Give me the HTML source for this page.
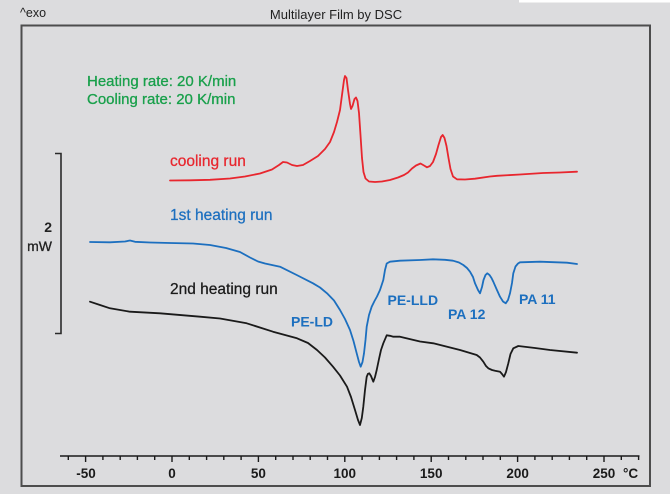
<!DOCTYPE html>
<html><head><meta charset="utf-8"><style>
html,body{margin:0;padding:0;background:#dcdcde;}
svg{display:block;}
text{font-family:"Liberation Sans",Arial,sans-serif;}
</style></head><body>
<svg width="670" height="494" viewBox="0 0 670 494" xmlns="http://www.w3.org/2000/svg">
<rect x="0" y="0" width="670" height="494" fill="#dcdcde"/>
<rect x="519" y="0" width="151" height="2.5" fill="#ffffff"/>
<rect x="21.5" y="25.5" width="628.5" height="460.5" fill="none" stroke="#4d4d4d" stroke-width="2"/>
<text x="20" y="17" font-size="12.5" fill="#222">^exo</text>
<text x="336" y="19" font-size="13" fill="#222" text-anchor="middle">Multilayer Film by DSC</text>
<text x="87" y="86" font-size="15" fill="#19a04b" stroke="#19a04b" stroke-width="0.3">Heating rate: 20 K/min</text>
<text x="87" y="104" font-size="15" fill="#19a04b" stroke="#19a04b" stroke-width="0.3">Cooling rate: 20 K/min</text>

<!-- scale bar -->
<path d="M55,153.5 H61 V333.5 H55" fill="none" stroke="#2a2a2a" stroke-width="1.6"/>
<text x="52" y="232" font-size="14" font-weight="bold" fill="#222" text-anchor="end">2</text>
<text x="52" y="251" font-size="14" fill="#222" text-anchor="end" stroke="#222" stroke-width="0.3">mW</text>

<!-- labels -->
<text x="170" y="166" font-size="15.5" fill="#e8262e" stroke="#e8262e" stroke-width="0.25">cooling run</text>
<text x="170" y="220" font-size="15.5" fill="#1c6fbf" stroke="#1c6fbf" stroke-width="0.25">1st heating run</text>
<text x="170" y="294" font-size="15.5" fill="#1a1a1a" stroke="#1a1a1a" stroke-width="0.25">2nd heating run</text>
<text x="291" y="326.5" font-size="14" font-weight="bold" fill="#1c6fbf">PE-LD</text>
<text x="387.5" y="305" font-size="14" font-weight="bold" fill="#1c6fbf">PE-LLD</text>
<text x="448" y="319" font-size="14" font-weight="bold" fill="#1c6fbf">PA 12</text>
<text x="519" y="304" font-size="14" font-weight="bold" fill="#1c6fbf">PA 11</text>

<!-- curves -->
<polyline fill="none" stroke="#e8262e" stroke-width="1.8" stroke-linejoin="round" stroke-linecap="round" points="170,180.5 190,180.3 210,179.8 230,178.5 245,176.5 260,173.5 272,169.5 279,165 283,162 287,162.5 292,165 297,166 303,165 310,161 318,156 325,149 330,142 334,132 337,122 340,110 342,95 344,80 345,76 346.5,78 348,90 350,104 351,109 352.5,106 354.5,99 356,97.5 357.5,101 359,113 360.5,135 362,158 363.5,172 365.5,178.5 369,181.5 375,182 382,181.5 390,180 398,177.5 404,175 408,172.5 412,168.5 416,165.5 420.5,163.5 424,165.5 427,167.3 430,166 433,162 436,154 438.5,145 441,137 442.7,135 444.5,138 446.5,146 448.5,158 450.5,169 453,176.5 457,179.3 465,179.5 475,178.7 490,176.5 497,175.8 520,174.5 543,173 560,172.5 577,171.7"/>
<polyline fill="none" stroke="#1c6fbf" stroke-width="1.8" stroke-linejoin="round" stroke-linecap="round" points="90,242 110,242.3 125,241.5 130,240.5 135,241.8 150,242.5 170,243 193,243.5 210,245 226,248 240,252 250,257.5 258,261.5 265,263.5 280,266.7 296.7,275 313,283.3 320,287.5 327,293.3 334,300.5 340,310 345,319 350,330 353.5,341 356.7,353.3 359,362 360.7,366.7 362.5,362 364,353.3 365.5,340 366.7,326.7 369,315 371.7,306.7 374.5,301 377,296.5 380,290 383.3,280 385,270 386.7,263.5 390,261.7 400,260.7 420,260 433,259.3 445,259.8 453,260.7 459,262.5 463.3,265 467,268 470,271.7 473,277 475,283.3 478,290 480,293.3 482,287 483.5,280 485.5,275 487.3,273.3 489.5,275 491.5,278 493.3,281.7 496.5,289 500,296.7 503,301.5 505.7,303.3 508,300 510,293.3 512,283 513.3,273.3 515.5,266.5 518,263.5 520,262.3 540,261.7 567,262.7 577,264"/>
<polyline fill="none" stroke="#1a1a1a" stroke-width="1.8" stroke-linejoin="round" stroke-linecap="round" points="90,301.7 100,305 110,308.3 130,311.7 160,313.3 200,316.7 220,318.5 246.7,323.3 273,331.7 297,338.3 308,343 317,350 325,357.5 333,366.7 340,375.5 347,386.7 351,397 355,410 358,420 360,425 361.8,418 363.3,406.7 365,390 366.7,376.7 368,373.8 369.3,373.3 371,376 373.3,381.7 375,377 376.7,370 379,359 381,350 383.3,343.3 386.7,335.3 390,335.8 393.3,336.7 400,336.7 420,341.5 433.3,343.3 460,350 476.7,355 480,357.5 483.3,361.7 486,366 488.3,368.3 492,370 495,370.7 500,371.7 502,374 504,376.7 506,372 508.3,363.3 510.5,354 513.3,348.3 518.3,346 535,348 550,350 577,352.7"/>

<!-- x axis -->
<line x1="60" y1="456" x2="639.5" y2="456" stroke="#1a1a1a" stroke-width="1.6"/>
<g stroke="#1a1a1a" stroke-width="1.4">
<line x1="68.3" y1="456" x2="68.3" y2="460"/>
<line x1="85.6" y1="456" x2="85.6" y2="462"/>
<line x1="102.9" y1="456" x2="102.9" y2="460"/>
<line x1="120.2" y1="456" x2="120.2" y2="460"/>
<line x1="137.4" y1="456" x2="137.4" y2="460"/>
<line x1="154.7" y1="456" x2="154.7" y2="460"/>
<line x1="172" y1="456" x2="172" y2="462"/>
<line x1="189.3" y1="456" x2="189.3" y2="460"/>
<line x1="206.6" y1="456" x2="206.6" y2="460"/>
<line x1="223.8" y1="456" x2="223.8" y2="460"/>
<line x1="241.1" y1="456" x2="241.1" y2="460"/>
<line x1="258.4" y1="456" x2="258.4" y2="462"/>
<line x1="275.7" y1="456" x2="275.7" y2="460"/>
<line x1="293" y1="456" x2="293" y2="460"/>
<line x1="310.2" y1="456" x2="310.2" y2="460"/>
<line x1="327.5" y1="456" x2="327.5" y2="460"/>
<line x1="344.8" y1="456" x2="344.8" y2="462"/>
<line x1="362.1" y1="456" x2="362.1" y2="460"/>
<line x1="379.4" y1="456" x2="379.4" y2="460"/>
<line x1="396.6" y1="456" x2="396.6" y2="460"/>
<line x1="413.9" y1="456" x2="413.9" y2="460"/>
<line x1="431.2" y1="456" x2="431.2" y2="462"/>
<line x1="448.5" y1="456" x2="448.5" y2="460"/>
<line x1="465.8" y1="456" x2="465.8" y2="460"/>
<line x1="483" y1="456" x2="483" y2="460"/>
<line x1="500.3" y1="456" x2="500.3" y2="460"/>
<line x1="517.6" y1="456" x2="517.6" y2="462"/>
<line x1="534.9" y1="456" x2="534.9" y2="460"/>
<line x1="552.2" y1="456" x2="552.2" y2="460"/>
<line x1="569.4" y1="456" x2="569.4" y2="460"/>
<line x1="586.7" y1="456" x2="586.7" y2="460"/>
<line x1="604" y1="456" x2="604" y2="462"/>
<line x1="621.3" y1="456" x2="621.3" y2="460"/>
<line x1="638.6" y1="456" x2="638.6" y2="460"/>
</g>
<g font-size="13.5" font-weight="bold" fill="#1a1a1a" text-anchor="middle">
<text x="86" y="478">-50</text>
<text x="172" y="478">0</text>
<text x="258.4" y="478">50</text>
<text x="344.8" y="478">100</text>
<text x="431.2" y="478">150</text>
<text x="517.6" y="478">200</text>
<text x="604" y="478">250</text>
</g>
<text x="623" y="478" font-size="13.5" font-weight="bold" fill="#1a1a1a">°C</text>
</svg>
</body></html>
